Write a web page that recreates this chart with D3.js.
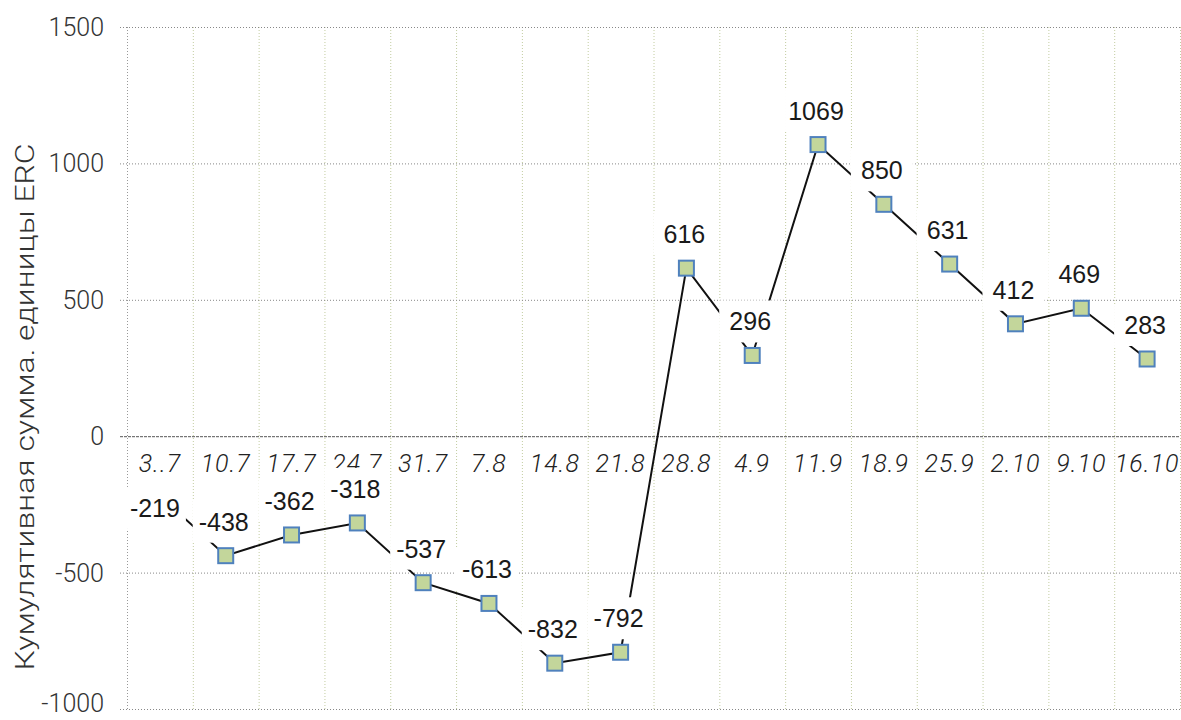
<!DOCTYPE html>
<html>
<head>
<meta charset="utf-8">
<script src="https://cdn.jsdelivr.net/npm/d3@7"></script>
<style>
  body { margin: 0; background: #fff; }
  svg { display: block; }
</style>
</head>
<body>
<div id="chart"></div>
<script>
const weeks = ["3..7", "10.7", "17.7", "24.7", "31.7", "7.8", "14.8", "21.8",
    "28.8", "4.9", "11.9", "18.9", "25.9", "2.10", "9.10", "16.10"];
const cumSum = [-219, -438, -362, -318, -537, -613, -832, -792,
    616, 296, 1069, 850, 631, 412, 469, 283];
const yTicks = [-1000, -500, 0, 500, 1000, 1500];
const yTitle = "Кумулятивная сумма. единицы  ERC";

const width = 1181, height = 720;
const thinFont = "Roboto, 'Liberation Sans', sans-serif";

const svg = d3.select("#chart").append("svg")
    .attr("width", width)
    .attr("height", height);

const x = d3.scaleBand()
    .domain(weeks)
    .range([127, 1180])
    .padding(0);

const y = d3.scaleLinear()
    .domain([-1000, 1500])
    .range([709, 27]);

const cx = d => x(d) + x.bandwidth() / 2;

// vertical grid (band edges)
const edges = weeks.map(w => x(w)).concat([x.range()[1]]);
svg.append("g").selectAll("line")
    .data(edges)
    .enter().append("line")
    .attr("x1", d => d + 0.5).attr("x2", d => d + 0.5)
    .attr("y1", y(1500)).attr("y2", y(-1000))
    .attr("stroke", (d, i) => i === 0 ? "#999" : "#c2cca0")
    .attr("stroke-width", 1)
    .attr("stroke-dasharray", "1,2");

// horizontal grid
svg.append("g").selectAll("line")
    .data(yTicks)
    .enter().append("line")
    .attr("x1", 120).attr("x2", x.range()[1])
    .attr("y1", d => y(d) + 0.5).attr("y2", d => y(d) + 0.5)
    .attr("stroke", d => d === 0 ? "#555" : "#888")
    .attr("stroke-width", 1)
    .attr("stroke-dasharray", d => d === 0 ? "3,1" : "1,2");

// y tick labels
svg.append("g").selectAll("text")
    .data(yTicks)
    .enter().append("text")
    .attr("x", 104)
    .attr("y", d => d === -1000 ? y(d) - 6 : y(d))
    .attr("dy", "0.36em")
    .attr("text-anchor", "end")
    .attr("font-family", thinFont)
    .attr("font-weight", 300)
    .attr("font-size", 25)
    .attr("fill", "#333")
    .text(d => d);

// y title
svg.append("text")
    .attr("transform", `translate(34,${407}) rotate(-90)`)
    .attr("text-anchor", "middle")
    .attr("font-family", thinFont)
    .attr("font-weight", 300)
    .attr("font-size", 25)
    .attr("fill", "#333")
    .attr("textLength", 527)
    .attr("lengthAdjust", "spacingAndGlyphs")
    .text(yTitle);

// category labels
svg.append("g").selectAll("text")
    .data(weeks)
    .enter().append("text")
    .attr("x", d => cx(d))
    .attr("y", 463)
    .attr("dy", "0.36em")
    .attr("text-anchor", "middle")
    .attr("font-family", thinFont)
    .attr("font-weight", 300)
    .attr("font-style", "italic")
    .attr("font-size", 25)
    .attr("letter-spacing", 1)
    .attr("fill", "#222")
    .text(d => d);

const pts = weeks.map((w, i) => ({ w: w, v: cumSum[i] }));

// line
svg.append("path")
    .datum(pts)
    .attr("fill", "none")
    .attr("stroke", "#111")
    .attr("stroke-width", 2)
    .attr("d", d3.line().x(d => cx(d.w)).y(d => y(d.v)));

// markers
svg.append("g").selectAll("rect")
    .data(pts)
    .enter().append("rect")
    .attr("x", d => cx(d.w) - 7.5)
    .attr("y", d => y(d.v) - 7.5)
    .attr("width", 15)
    .attr("height", 15)
    .attr("fill", "#c3d69b")
    .attr("stroke", "#4f81bd")
    .attr("stroke-width", 2);

// data labels with white boxes
const labels = svg.append("g").selectAll("g")
    .data(pts)
    .enter().append("g")
    .attr("transform", (d, i) => {
        // first label got pushed down over its own marker
        const dy = i === 0 ? 12 : -34;
        const dx = i === 0 ? -5 : -2;
        return `translate(${cx(d.w) + dx},${y(d.v) + dy})`;
    });

labels.append("rect")
    .attr("x", -31).attr("y", -21)
    .attr("width", 62).attr("height", 42)
    .attr("fill", "#fff");

labels.append("text")
    .attr("text-anchor", "middle")
    .attr("dy", "0.36em")
    .attr("font-family", "'Liberation Sans', Arial, sans-serif")
    .attr("font-size", 25)
    .attr("fill", "#1a1a1a")
    .text(d => d.v);
</script>
</body>
</html>
